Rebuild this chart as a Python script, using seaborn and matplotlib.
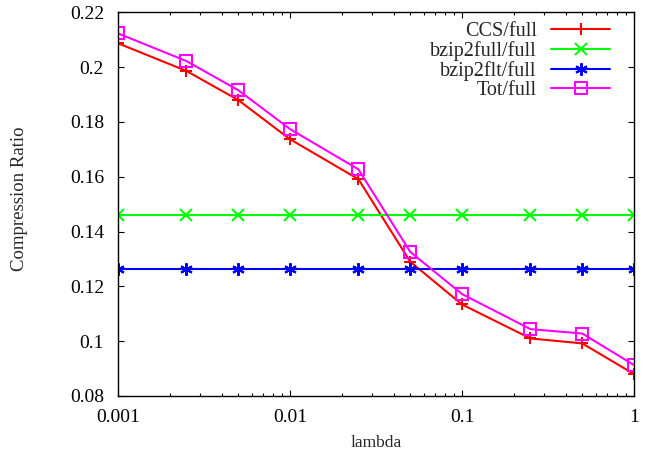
import numpy as np
import pandas as pd
import seaborn as sns
import matplotlib.pyplot as plt
from matplotlib.ticker import FixedLocator, LogLocator, NullFormatter

# valeurs
lam = [0.001, 0.0025, 0.005, 0.01, 0.025, 0.05, 0.1, 0.25, 0.5, 1.0]
ccs = [0.2087, 0.1986, 0.1880, 0.1737, 0.1591, 0.1290, 0.1134, 0.1010, 0.0992, 0.0880]
bzip2full = [0.1460] * 10
bzip2flt = [0.1263] * 10
tot = [0.2123, 0.2022, 0.1916, 0.1774, 0.1627, 0.1326, 0.1172, 0.1044, 0.1028, 0.0913]
yticks = [0.08, 0.1, 0.12, 0.14, 0.16, 0.18, 0.2, 0.22]
ylabels = ["0.08", "0.1", "0.12", "0.14", "0.16", "0.18", "0.2", "0.22"]
xticks = [0.001, 0.01, 0.1, 1]
xlabels = ["0.001", "0.01", "0.1", "1"]

series = [
    ("CCS/full", ccs, "#ff0000", "+", 9),
    ("bzip2full/full", bzip2full, "#00ff00", "x", 8.5),
    ("bzip2flt/full", bzip2flt, "#0000ff", (6, 2, 0), 9),
    ("Tot/full", tot, "#ff00ff", "s", 8),
]

sns.set_style("ticks")
plt.rcParams['font.family'] = ['Liberation Serif', 'DejaVu Serif']
fs = 14.5
plt.rcParams['font.size'] = fs

fig = plt.figure(figsize=(6.57, 4.58), dpi=100)
ax = fig.add_axes([118 / 657, 1 - 396 / 458, (634 - 118) / 657, (396 - 12.3) / 458])

for name, vals, col, mk, ms in series:
    df = pd.DataFrame({"lambda": lam, "ratio": vals})
    sns.lineplot(data=df, x="lambda", y="ratio", ax=ax, color=col, linewidth=1.5,
                 marker=mk, markersize=ms,
                 markerfacecolor="none" if mk == "s" else col,
                 markeredgecolor=col, markeredgewidth=1.5, label=name)

ax.set_xscale("log")
ax.set_xlim(0.001, 1)
ax.set_ylim(0.08, 0.22)
ax.set_xticks(xticks)
ax.set_xticklabels(xlabels)
ax.xaxis.set_minor_locator(LogLocator(base=10, subs=np.arange(2, 10)))
ax.xaxis.set_minor_formatter(NullFormatter())
ax.yaxis.set_major_locator(FixedLocator(yticks))
ax.set_yticklabels(ylabels)

ax.tick_params(which="both", direction="in", top=True, right=True, colors="black",
               labelsize=14, width=0.8)
ax.tick_params(which="major", length=4.5)
ax.tick_params(axis="y", which="major", pad=10)
ax.tick_params(axis="x", which="major", pad=9)
ax.tick_params(which="minor", length=2.5)
for s in ax.spines.values():
    s.set_visible(True)
    s.set_color("black")
    s.set_linewidth(1.0)

ax.set_xlabel("lambda", fontsize=12.5, labelpad=7)
ax.set_ylabel("Compression Ratio", fontsize=13.5)
ax.yaxis.set_label_coords(-0.174, 0.513)

ax.legend(loc="upper right", bbox_to_anchor=(0.9535, 0.974), frameon=False,
          markerfirst=False, handlelength=2.93, handletextpad=0.7,
          labelspacing=0.0, borderaxespad=0, borderpad=0, fontsize=fs)

fig.savefig("out.png", dpi=100)
